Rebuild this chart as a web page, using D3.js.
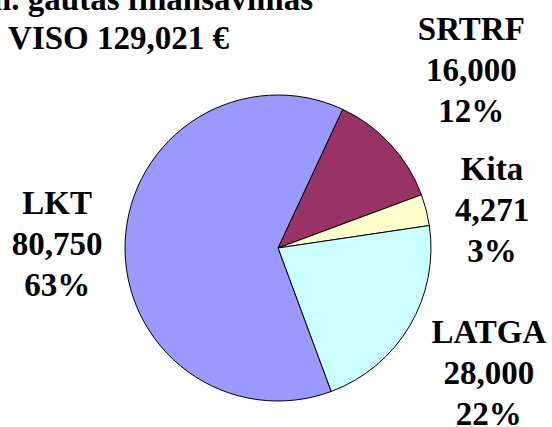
<!DOCTYPE html>
<html>
<head>
<meta charset="utf-8">
<script src="https://cdn.jsdelivr.net/npm/d3@7"></script>
<style>
  @font-face {
    font-family: 'ChartSerif';
    src: local('Liberation Serif Bold'), local('LiberationSerif-Bold'), local('Times New Roman Bold');
    font-weight: bold;
  }
</style>
</head>
<body style="margin:0">
<svg id="container" width="552" height="427"></svg>
<script>
const titleLines = ['2008 m. gautas finansavimas', 'IŠ VISO 129,021 €']
const categories = ['SRTRF', 'Kita', 'LATGA', 'LKT']
const values = [16000, 4271, 28000, 80750]
const percents = ['12%', '3%', '22%', '63%']
const colors = ['#993366', '#FFFFCC', '#CCFFFF', '#9999FF']

const cx = 278,
  cy = 248,
  radius = 153
const fontSize = 33
const lineH = 41

// label nudges, Excel places them just outside the pie
const labelDist = [263, 222, 245, 221]
const labelNudge = [
  [0, 0],
  [-1, 17],
  [0, 0],
  [0, 5],
]

const svg = d3.select('#container')

const pie = d3
  .pie()
  .sort(null)
  .value((d) => d)
  .startAngle((25 * Math.PI) / 180)
  .endAngle((25 * Math.PI) / 180 + 2 * Math.PI)

const arcs = pie(values)
const arc = d3.arc().innerRadius(0).outerRadius(radius)

svg
  .selectAll('path')
  .data(arcs)
  .enter()
  .append('path')
  .attr('d', arc)
  .attr('transform', `translate(${cx},${cy})`)
  .attr('fill', (d, i) => colors[i])
  .attr('stroke', '#000')
  .attr('stroke-width', 1)

const fmt = d3.format(',')

// one plain text per line
let labelLines = []
arcs.forEach((d, i) => {
  let a = (d.startAngle + d.endAngle) / 2
  let x = cx + Math.sin(a) * labelDist[i] + labelNudge[i][0]
  let y = cy - Math.cos(a) * labelDist[i] + labelNudge[i][1]
  ;[categories[i], fmt(values[i]), percents[i]].forEach((l, j) => {
    labelLines.push({ text: l, x: x, y: y + (j - 1) * lineH + fontSize * 0.33, anchor: 'middle' })
  })
})
titleLines.forEach((l, i) => {
  labelLines.push({ text: l, x: i === 0 ? 313 : 229, y: 10 + i * 39, anchor: 'end' })
})

svg
  .selectAll('text')
  .data(labelLines)
  .enter()
  .append('text')
  .attr('x', (d) => d.x)
  .attr('y', (d) => d.y)
  .attr('text-anchor', (d) => d.anchor)
  .style('font-family', '"Liberation Serif", ChartSerif, "Times New Roman", serif')
  .style('font-weight', 'bold')
  .style('font-size', fontSize + 'px')
  .text((d) => d.text)
</script>
</body>
</html>
